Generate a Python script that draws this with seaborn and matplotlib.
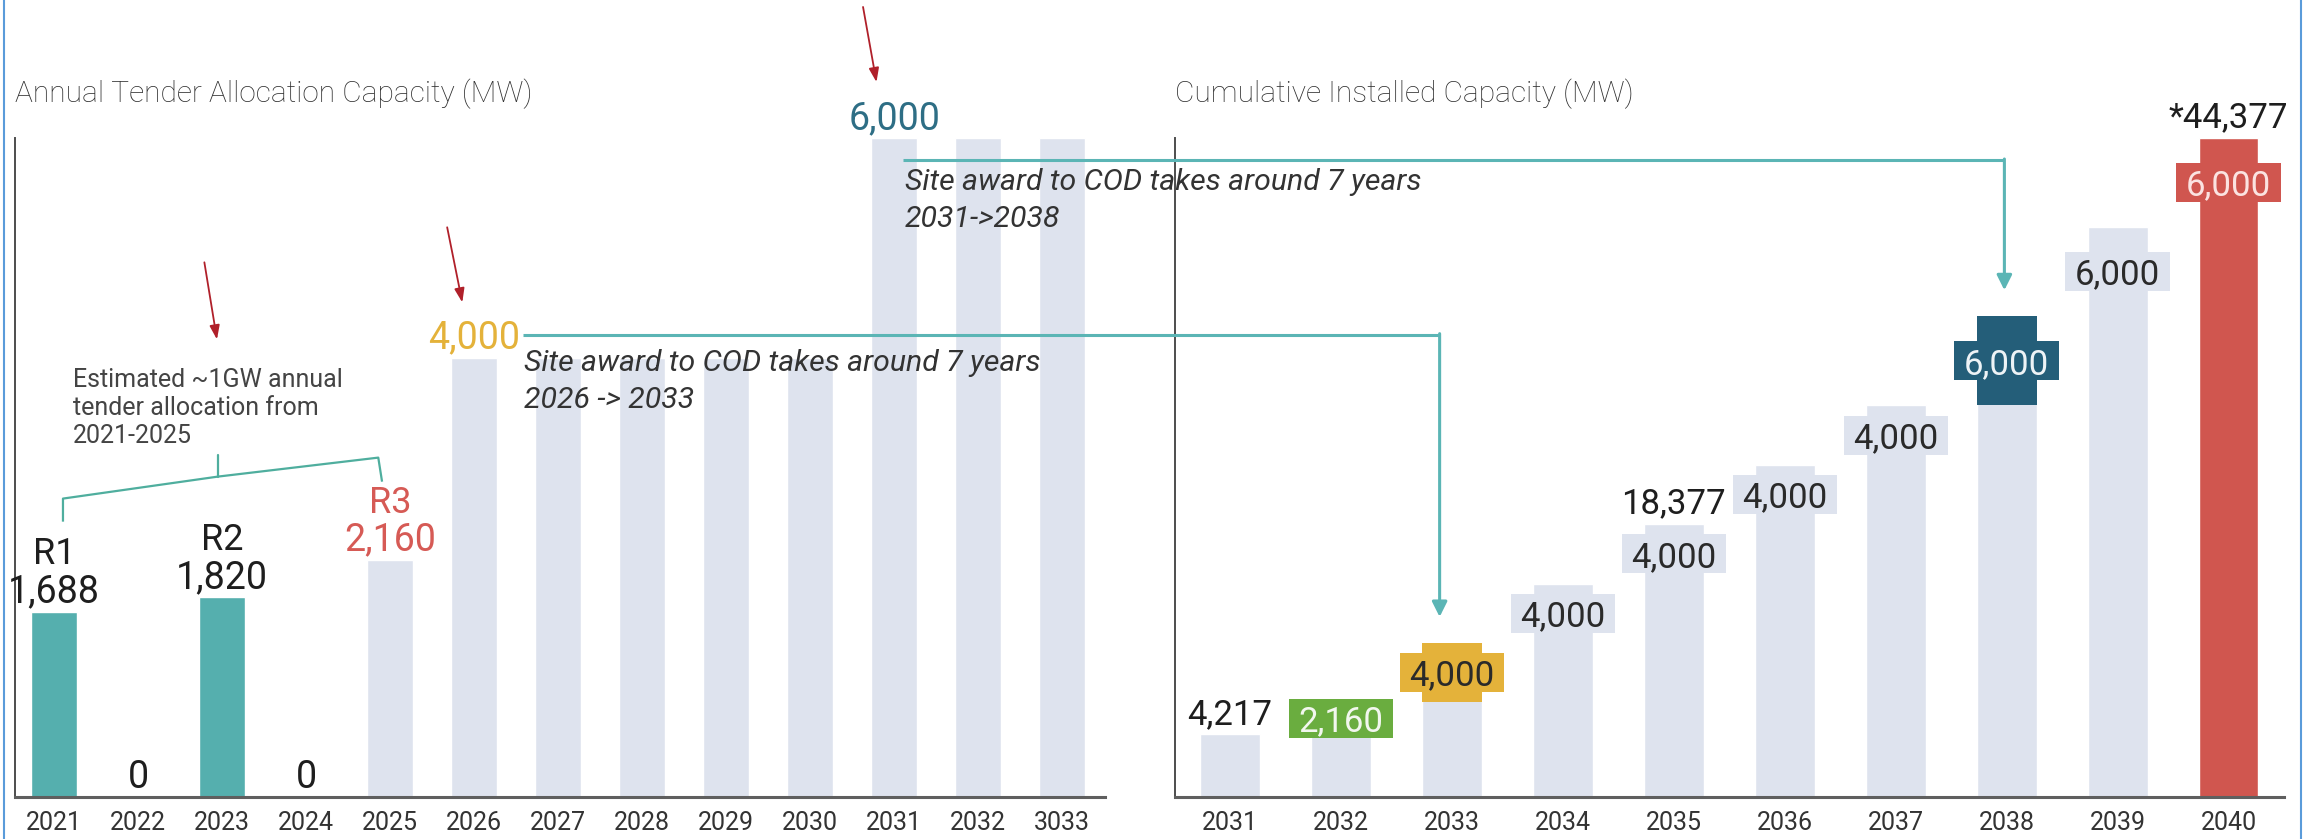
import numpy as np
import pandas as pd
import matplotlib
matplotlib.use("Agg")
import matplotlib.pyplot as plt
import seaborn as sns
from matplotlib.lines import Line2D
from matplotlib.patches import FancyArrowPatch
from matplotlib.transforms import IdentityTransform

# ---------------- data ----------------
tender_years = ["2021", "2022", "2023", "2024", "2025", "2026", "2027",
                "2028", "2029", "2030", "2031", "2032", "3033"]
tender_mw = [1688, 0, 1820, 0, 2160, 4000, 4000, 4000, 4000, 4000, 6000, 6000, 6000]
tender_status = ["Awarded", "Awarded", "Awarded", "Awarded", "Planned", "Planned",
                 "Planned", "Planned", "Planned", "Planned", "Planned", "Planned", "Planned"]
tender_rounds = {"2021": "R1", "2023": "R2", "2025": "R3"}
tender_labelled = ["2021", "2022", "2023", "2024", "2025", "2026", "2031"]

cod_years = ["2031", "2032", "2033", "2034", "2035", "2036", "2037", "2038", "2039", "2040"]
cod_added_mw = [4217, 2160, 4000, 4000, 4000, 4000, 4000, 6000, 6000, 6000]
cod_status = ["Planned"] * 9 + ["Final"]
cod_total_labelled = {"2031": "", "2035": "", "2040": "*"}

title_left = "Annual Tender Allocation Capacity (MW)"
title_right = "Cumulative Installed Capacity (MW)"
note_estimate = "Estimated ~1GW annual\ntender allocation from\n2021-2025"
note_lower = "Site award to COD takes around 7 years\n2026 -> 2033"
note_upper = "Site award to COD takes around 7 years\n2031->2038"

# ---------------- styles ----------------
TEAL = "#55AFAE"
LIGHT = "#DEE3EE"
GOLD = "#E4B23A"
NAVY = "#245E79"
RED = "#D0564F"
GREEN = "#6AAD3F"
LABEL_RED = "#D65A55"
TEXT = "#1e1e1e"
ARROW_TEAL = "#5BB5B5"
DARKRED = "#B0202A"

left_label_colors = {"2021": TEXT, "2022": TEXT, "2023": TEXT, "2024": TEXT,
                     "2025": LABEL_RED, "2026": GOLD, "2031": "#2E6E85"}
segment_colors = {"2033": GOLD, "2038": NAVY}
box_styles = {"2032": (GREEN, "#F2F7EE"), "2033": (GOLD, "#2a2a2a"),
              "2034": (LIGHT, "#2a2a2a"), "2035": (LIGHT, "#2a2a2a"),
              "2036": (LIGHT, "#2a2a2a"), "2037": (LIGHT, "#2a2a2a"),
              "2038": (NAVY, "#EEF3F6"), "2039": (LIGHT, "#2a2a2a"),
              "2040": (RED, "#FBE3E1")}

sns.set_theme(style="white")
plt.rcParams["font.family"] = ["Roboto", "DejaVu Sans"]

W, H = 2323, 839
fig = plt.figure(figsize=(W / 100, H / 100), dpi=100)
fig.patch.set_facecolor("white")
bottom_px, top_px = 797, 138
axL = fig.add_axes([15 / W, 1 - bottom_px / H, (1105 - 15) / W, (bottom_px - top_px) / H])
axR = fig.add_axes([1175 / W, 1 - bottom_px / H, (2284 - 1175) / W, (bottom_px - top_px) / H])

# ---------------- left panel ----------------
dfL = pd.DataFrame({"year": tender_years, "mw": tender_mw, "status": tender_status})
sns.barplot(data=dfL, x="year", y="mw", hue="status", order=tender_years,
            palette={"Awarded": TEAL, "Planned": LIGHT}, width=0.55, dodge=False,
            saturation=1, legend=False, ax=axL)
axL.set_xlim(-0.464, len(tender_years) - 0.49)
axL.set_ylim(0, max(tender_mw))

for i, (yr, v) in enumerate(zip(tender_years, tender_mw)):
    if yr in tender_labelled:
        col = left_label_colors[yr]
        axL.annotate(f"{v:,}", (i, v), xytext=(0, 17), textcoords="offset points",
                     ha="center", va="center_baseline", fontsize=27, color=col,
                     annotation_clip=False)
        if yr in tender_rounds:
            axL.annotate(tender_rounds[yr], (i, v), xytext=(0, 44), textcoords="offset points",
                         ha="center", va="center_baseline", fontsize=26, color=col,
                         annotation_clip=False)

# ---------------- right panel ----------------
cum = np.cumsum(cod_added_mw)
dfR = pd.DataFrame({"year": cod_years, "total": cum, "status": cod_status})
sns.barplot(data=dfR, x="year", y="total", hue="status", order=cod_years,
            palette={"Planned": LIGHT, "Final": RED}, width=0.54, dodge=False,
            saturation=1, legend=False, ax=axR)
axR.set_xlim(-0.495, len(cod_years) - 0.5)
axR.set_ylim(0, cum[-1])

# highlighted increment segments
for i, yr in enumerate(cod_years):
    if yr in segment_colors:
        axR.bar(i, cod_added_mw[i], bottom=cum[i] - cod_added_mw[i], width=0.54,
                color=segment_colors[yr], linewidth=0)

# label boxes centred on each increment
px_per_mw = (bottom_px - top_px) / cum[-1]
box_h = 39 / px_per_mw
for i, yr in enumerate(cod_years):
    if yr in box_styles:
        fc, tc = box_styles[yr]
        mid = cum[i] - cod_added_mw[i] / 2
        axR.bar(i, box_h, bottom=mid - box_h / 2, width=0.94, color=fc, linewidth=0, zorder=3)
        axR.text(i, mid, f"{cod_added_mw[i]:,}", ha="center", va="center_baseline",
                 fontsize=25, color=tc, zorder=4)

for i, yr in enumerate(cod_years):
    if yr in cod_total_labelled:
        axR.annotate(f"{cod_total_labelled[yr]}{cum[i]:,}", (i, cum[i]), xytext=(0, 17),
                     textcoords="offset points", ha="center", va="center_baseline",
                     fontsize=25, color=TEXT, annotation_clip=False)

# ---------------- axes styling ----------------
for ax, title in ((axL, title_left), (axR, title_right)):
    ax.set_xlabel("")
    ax.set_ylabel("")
    ax.set_yticks([])
    ax.tick_params(axis="x", length=0, pad=10, labelsize=18, labelcolor="#333333")
    ax.spines["top"].set_visible(False)
    ax.spines["right"].set_visible(False)
    ax.spines["left"].set_color("#4d4d4d")
    ax.spines["left"].set_linewidth(1.4)
    ax.spines["bottom"].set_color("#5f5f5f")
    ax.spines["bottom"].set_linewidth(2.2)
    ax.text(0.0, 1.0 + 36 / (bottom_px - top_px), title, transform=ax.transAxes,
            ha="left", va="baseline", fontsize=21.5, color="#2e2e2e", fontweight="light")
axL.set_facecolor("white")
axR.set_facecolor("none")

# ---------------- annotations (va='baseline' anchors the last line) ----------------
axL.text(0.226, 3224, note_estimate, ha="left", va="baseline", fontsize=18,
         color="#444444", linespacing=1.2)
axL.text(5.6, 3543, note_lower, ha="left", va="baseline", fontsize=21.75,
         color="#333333", style="italic", linespacing=1.42)
axL.text(10.13, 5191, note_upper, ha="left", va="baseline", fontsize=21.75,
         color="#333333", style="italic", linespacing=1.42, zorder=5)

# bracket over 2021-2025
bx = [0.107, 0.107, 1.95, 3.86, 3.905]
by = [2507, 2717, 2917, 3090, 2871]
axL.plot(bx, by, color="#4FAE9E", lw=1.6, clip_on=False, solid_capstyle="butt")
axL.plot([1.95, 1.95], [2917, 3118], color="#4FAE9E", lw=1.6, clip_on=False)

# small red pointer arrows
red_arrows = [((1.79, 4868), (1.94, 4166)),
              ((4.68, 5187), (4.86, 4503)),
              ((9.63, 7193), (9.79, 6509))]
for tail, tip in red_arrows:
    axL.annotate("", xy=tip, xytext=tail, annotation_clip=False,
                 arrowprops=dict(arrowstyle="-|>,head_length=0.7,head_width=0.25",
                                 color=DARKRED, lw=1.3, shrinkA=0, shrinkB=0))

# teal connectors (left tender year -> right COD year)
def connector(left_idx, left_val, start_dx, dy_px, right_idx, right_dx):
    x0, y0 = axL.transData.transform((left_idx + start_dx, left_val))
    y0 = y0 + dy_px
    x1, _ = axR.transData.transform((right_idx + right_dx, 0))
    _, ytip = axR.transData.transform((0, cum[right_idx]))
    ytip = ytip + 26
    fig.add_artist(Line2D([x0, x1], [y0, y0], transform=IdentityTransform(),
                          color=ARROW_TEAL, lw=2.2, solid_capstyle="butt", zorder=6))
    fig.add_artist(FancyArrowPatch((x1, y0 + 1), (x1, ytip), transform=IdentityTransform(),
                                   arrowstyle="-|>,head_length=9,head_width=4.5",
                                   color=ARROW_TEAL, lw=2.2, shrinkA=0, shrinkB=0,
                                   mutation_scale=1, zorder=6))

connector(tender_years.index("2026"), 4000, 0.58, 23, cod_years.index("2033"), -0.11)
connector(tender_years.index("2031"), 6000, 0.10, -22, cod_years.index("2038"), -0.02)

# screenshot frame lines
for xpx in (4, 2301):
    fig.add_artist(Line2D([xpx, xpx], [0, H], transform=IdentityTransform(),
                          color="#5A9BDA", lw=1.5))

fig.savefig("out.png", dpi=100, facecolor="white")
